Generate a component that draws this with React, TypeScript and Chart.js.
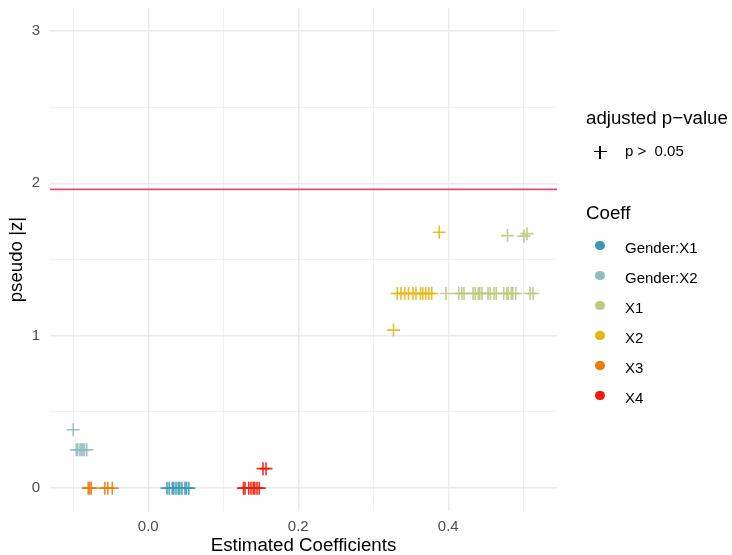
import React, { useEffect, useRef } from "react";
import { Chart, registerables } from "chart.js";

Chart.register(...registerables);

// ---------- data ----------
const seriesNames = ["Gender:X1", "Gender:X2", "X1", "X2", "X3", "X4"];
const seriesColors = ["#3B9AB2", "#92BDBA", "#BDC97F", "#E6B60F", "#EE7A0A", "#F21A00"];

const genderX1Est = [0.025, 0.028, 0.032, 0.034, 0.037, 0.04, 0.042, 0.045, 0.049, 0.051, 0.054];
const genderX1Z = [0, 0, 0, 0, 0, 0, 0, 0, 0, 0, 0];

const genderX2Est = [-0.1, -0.096, -0.094, -0.091, -0.089, -0.087, -0.085, -0.082];
const genderX2Z = [0.383, 0.252, 0.252, 0.252, 0.252, 0.252, 0.252, 0.252];

const x1Est = [
  0.397, 0.414, 0.418, 0.421, 0.433, 0.436, 0.44, 0.442, 0.445, 0.453, 0.456,
  0.461, 0.464, 0.474, 0.478, 0.48, 0.484, 0.486, 0.49, 0.509, 0.513,
  0.479, 0.501, 0.505,
];
const x1Z = [
  1.277, 1.277, 1.277, 1.277, 1.277, 1.277, 1.277, 1.277, 1.277, 1.277, 1.277,
  1.277, 1.277, 1.277, 1.277, 1.277, 1.277, 1.277, 1.277, 1.277, 1.277,
  1.657, 1.654, 1.67,
];

const x2Est = [0.332, 0.337, 0.342, 0.347, 0.353, 0.357, 0.363, 0.366, 0.37, 0.374, 0.378, 0.388, 0.327];
const x2Z = [1.277, 1.277, 1.277, 1.277, 1.277, 1.277, 1.277, 1.277, 1.277, 1.277, 1.277, 1.679, 1.037];

const x3Est = [-0.08, -0.078, -0.076, -0.058, -0.054, -0.048];
const x3Z = [0, 0, 0, 0, 0, 0];

const x4Est = [0.127, 0.129, 0.134, 0.137, 0.14, 0.142, 0.145, 0.148, 0.153, 0.157];
const x4Z = [0, 0, 0, 0, 0, 0, 0, 0, 0.128, 0.128];

const seriesEst = [genderX1Est, genderX2Est, x1Est, x2Est, x3Est, x4Est];
const seriesZ = [genderX1Z, genderX2Z, x1Z, x2Z, x3Z, x4Z];

const xTickValues = [-0.1, 0, 0.1, 0.2, 0.3, 0.4, 0.5];
const xMajorTicks = [0, 0.2, 0.4];
const yTickValues = [0, 0.5, 1, 1.5, 2, 2.5, 3];
const yMajorTicks = [0, 1, 2, 3];
const zThreshold = 1.96;

const xTitle = "Estimated Coefficients";
const yTitle = "pseudo |z|";
const shapeLegendTitle = "adjusted p\u2212value";
const shapeLegendLabel = "p >\u00a0 0.05";
const colorLegendTitle = "Coeff";

// ---------- helpers ----------
const FONT = "'Liberation Sans', Arial, Helvetica, sans-serif";

function withAlpha(hex: string, a: number) {
  const r = parseInt(hex.slice(1, 3), 16);
  const g = parseInt(hex.slice(3, 5), 16);
  const b = parseInt(hex.slice(5, 7), 16);
  return `rgba(${r},${g},${b},${a})`;
}
const isMajor = (v: number, majors: number[]) => majors.some((m) => Math.abs(m - v) < 1e-9);

const thresholdPlugin = {
  id: "thresholdLine",
  beforeDatasetsDraw(chart: any) {
    const { ctx, chartArea, scales } = chart;
    const y = scales.y.getPixelForValue(zThreshold);
    ctx.save();
    ctx.strokeStyle = "#E34B68";
    ctx.lineWidth = 1.8;
    ctx.beginPath();
    ctx.moveTo(chartArea.left, y);
    ctx.lineTo(chartArea.right, y);
    ctx.stroke();
    ctx.restore();
  },
};

export default function App() {
  const canvasRef = useRef<HTMLCanvasElement | null>(null);

  useEffect(() => {
    if (!canvasRef.current) return;
    const datasets = seriesNames.map((name, i) => ({
      label: name,
      data: seriesEst[i].map((x, j) => ({ x, y: seriesZ[i][j] })),
      pointStyle: "cross" as const,
      pointRadius: 6.5,
      pointHoverRadius: 6.5,
      borderWidth: 1.6,
      borderColor: withAlpha(seriesColors[i], 0.9),
      backgroundColor: withAlpha(seriesColors[i], 0.9),
    }));

    const zeroPad = (s: any) => {
      s.paddingTop = 0;
      s.paddingBottom = 0;
      s.paddingLeft = 0;
      s.paddingRight = 0;
    };

    const chart = new Chart(canvasRef.current, {
      type: "scatter",
      data: { datasets },
      plugins: [thresholdPlugin],
      options: {
        animation: false,
        responsive: false,
        maintainAspectRatio: false,
        layout: { padding: { top: 7, right: 175, left: 0, bottom: 0 } },
        plugins: { legend: { display: false }, tooltip: { enabled: false } },
        scales: {
          x: {
            type: "linear",
            min: -0.131,
            max: 0.545,
            afterBuildTicks: (s: any) => {
              s.ticks = xTickValues.map((v) => ({ value: v }));
            },
            afterFit: (s: any) => {
              s.height = 44;
              zeroPad(s);
            },
            border: { display: false },
            grid: {
              drawTicks: false,
              color: "#EBEBEB",
              lineWidth: (ctx: any) => (isMajor(ctx.tick.value, xMajorTicks) ? 1.4 : 0.7),
            },
            ticks: {
              padding: 6.5,
              color: "#4D4D4D",
              font: { family: FONT, size: 15 },
              maxRotation: 0,
              autoSkip: false,
              callback: (v: any) => (isMajor(Number(v), xMajorTicks) ? Number(v).toFixed(1) : ""),
            },
            title: {
              display: true,
              text: xTitle,
              color: "#000000",
              font: { family: FONT, size: 18.7, lineHeight: 1 },
              padding: { top: 0, bottom: 0 },
            },
          },
          y: {
            type: "linear",
            min: -0.15,
            max: 3.15,
            afterBuildTicks: (s: any) => {
              s.ticks = yTickValues.map((v) => ({ value: v }));
            },
            afterFit: (s: any) => {
              s.width = 50;
              zeroPad(s);
            },
            border: { display: false },
            grid: {
              drawTicks: false,
              color: "#EBEBEB",
              lineWidth: (ctx: any) => (isMajor(ctx.tick.value, yMajorTicks) ? 1.4 : 0.7),
            },
            ticks: {
              padding: 10,
              color: "#4D4D4D",
              font: { family: FONT, size: 15 },
              autoSkip: false,
              callback: (v: any) => (isMajor(Number(v), yMajorTicks) ? String(Math.round(Number(v))) : ""),
            },
            title: {
              display: true,
              text: yTitle,
              color: "#000000",
              font: { family: FONT, size: 18.7, lineHeight: 1 },
              padding: { top: 7.6, bottom: 0 },
            },
          },
        },
      },
    });
    return () => chart.destroy();
  }, []);

  const textBase: React.CSSProperties = {
    position: "absolute",
    fontFamily: FONT,
    color: "#000",
    whiteSpace: "pre",
  };

  return (
    <div style={{ position: "absolute", left: 0, top: 0, width: 732, height: 555, background: "#fff" }}>
      <canvas ref={canvasRef} width={732} height={555} style={{ display: "block", width: 732, height: 555 }} />
      {/* shape legend */}
      <div style={{ ...textBase, left: 586, top: 109.2, fontSize: 18.7, lineHeight: "18.7px" }}>{shapeLegendTitle}</div>
      <div style={{ position: "absolute", left: 593.5, top: 151.2, width: 13, height: 1.3, background: "#000" }} />
      <div style={{ position: "absolute", left: 599.4, top: 145.5, width: 1.3, height: 13, background: "#000" }} />
      <div style={{ ...textBase, left: 625, top: 143.3, fontSize: 15, lineHeight: "15px" }}>{shapeLegendLabel}</div>
      {/* colour legend */}
      <div style={{ ...textBase, left: 586, top: 204.2, fontSize: 18.7, lineHeight: "18.7px" }}>{colorLegendTitle}</div>
      {seriesNames.map((name, i) => (
        <React.Fragment key={name}>
          <div
            style={{
              position: "absolute",
              left: 600 - 4.75,
              top: 245.7 + 30 * i - 4.75,
              width: 9.5,
              height: 9.5,
              borderRadius: "50%",
              background: seriesColors[i],
            }}
          />
          <div style={{ ...textBase, left: 625, top: 240.3 + 30 * i, fontSize: 15, lineHeight: "15px" }}>{name}</div>
        </React.Fragment>
      ))}
    </div>
  );
}
